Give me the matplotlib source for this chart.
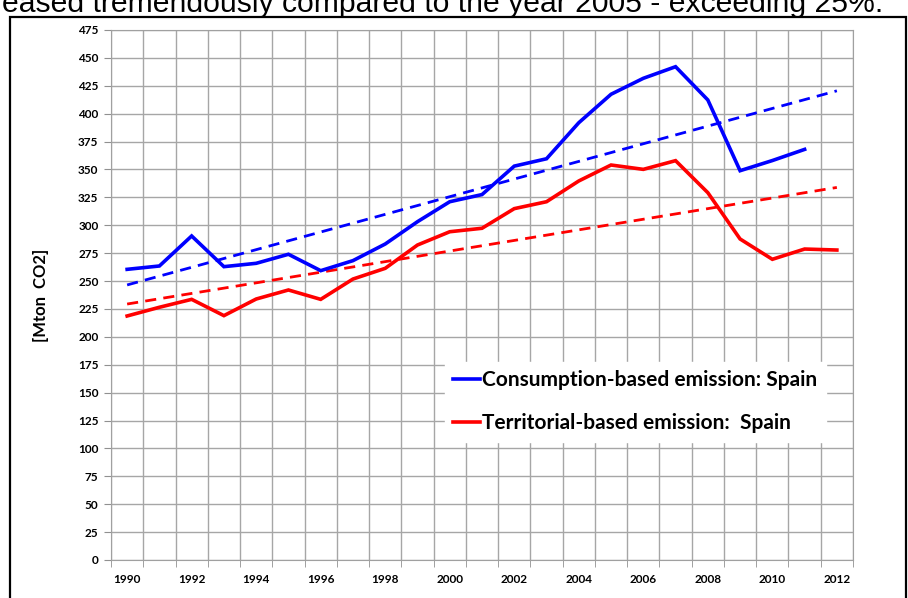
import numpy as np
import matplotlib
matplotlib.use("Agg")
import matplotlib.pyplot as plt
from matplotlib.patches import Rectangle

plt.rcParams['font.family'] = ['Lato', 'DejaVu Sans']

# data (Mton CO2)
years = list(range(1990, 2013))
consumption = [260.5, 263.5, 290.4, 262.9, 265.9, 274.0, 259.3, 268.3, 283.2, 303.2,
               321.1, 327.5, 353.0, 359.6, 391.9, 417.4, 431.7, 442.1, 412.3, 348.9,
               358.0, 368.0, None]
territorial = [218.7, 226.5, 233.6, 219.0, 233.9, 242.0, 233.6, 251.8, 261.4, 282.3,
               294.2, 297.3, 314.9, 321.1, 339.7, 354.0, 350.1, 357.9, 329.2, 287.7,
               269.5, 278.7, 277.8]
# trend lines (ends as drawn)
trend_years = [1990, 2012]
cons_trend = [246.5, 420.5]
terr_trend = [229.4, 333.9]

xlabels = [str(y) for y in range(1990, 2013, 2)]
yticks = list(range(0, 476, 25))

cons = np.array([np.nan if v is None else v for v in consumption])
terr = np.array(territorial)

fig = plt.figure(figsize=(9.08, 5.98), dpi=100)
ax = fig.add_axes([111/908, 38/598, 742/908, 530/598])

# grid at category boundaries
ax.set_xlim(1989.5, 2012.5)
ax.set_ylim(0, 475)
ax.set_xticks(np.arange(1989.5, 2013, 1), minor=True)
ax.set_xticks(range(1990, 2013, 2))
ax.set_xticklabels(xlabels, fontsize=8.5, fontweight='bold')
ax.set_yticks(yticks)
ax.set_yticklabels([str(v) for v in yticks], fontsize=8.5, fontweight='bold')
ax.tick_params(axis='x', which='major', length=0, pad=10)
ax.tick_params(axis='x', which='minor', length=5, color='#909090', direction='out')
ax.tick_params(axis='y', length=5, color='#909090', direction='out', pad=4)
ax.grid(True, axis='x', which='minor', color='#a6a6a6', lw=1)
ax.grid(True, axis='y', which='major', color='#a6a6a6', lw=1)
ax.set_axisbelow(True)
for s in ax.spines.values():
    s.set_color('#a0a0a0')

ax.plot(trend_years, cons_trend, color='#0000ff', lw=2, dashes=(4, 2.6))
ax.plot(trend_years, terr_trend, color='#ff0000', lw=2, dashes=(4, 2.6))
l1, = ax.plot(years, cons, color='#0000ff', lw=2.6, solid_joinstyle='miter')
l2, = ax.plot(years, terr, color='#ff0000', lw=2.6, solid_joinstyle='miter')

leg = ax.legend([l1, l2], ['Consumption-based emission: Spain', 'Territorial-based emission:  Spain'],
                loc='upper left', bbox_to_anchor=(445/908, 1 - 362/598),
                bbox_transform=fig.transFigure, frameon=True, fancybox=False,
                edgecolor='white', facecolor='white', framealpha=1,
                prop={'weight': 'bold', 'size': 15}, handlelength=1.3,
                handletextpad=0.1, labelspacing=1.1, borderpad=0.4, borderaxespad=0)

fig.text(41/908, 1 - 295/598, '[Mton  CO2]', rotation=90, fontsize=12, fontweight='bold',
         ha='center', va='center')

# outer frame and clipped caption above it
fig.patches.append(Rectangle((10/908, -0.05), 896/908, (598 - 17)/598 + 0.05,
                             transform=fig.transFigure, fill=False, ec='black', lw=1.6))
fig.text(2/908, 1 - 12/598, 'eased tremendously compared to the year 2005 - exceeding 25%.',
         fontsize=21.7, family=['Liberation Sans', 'DejaVu Sans'], va='baseline', ha='left')

fig.savefig('out.png', dpi=100)
